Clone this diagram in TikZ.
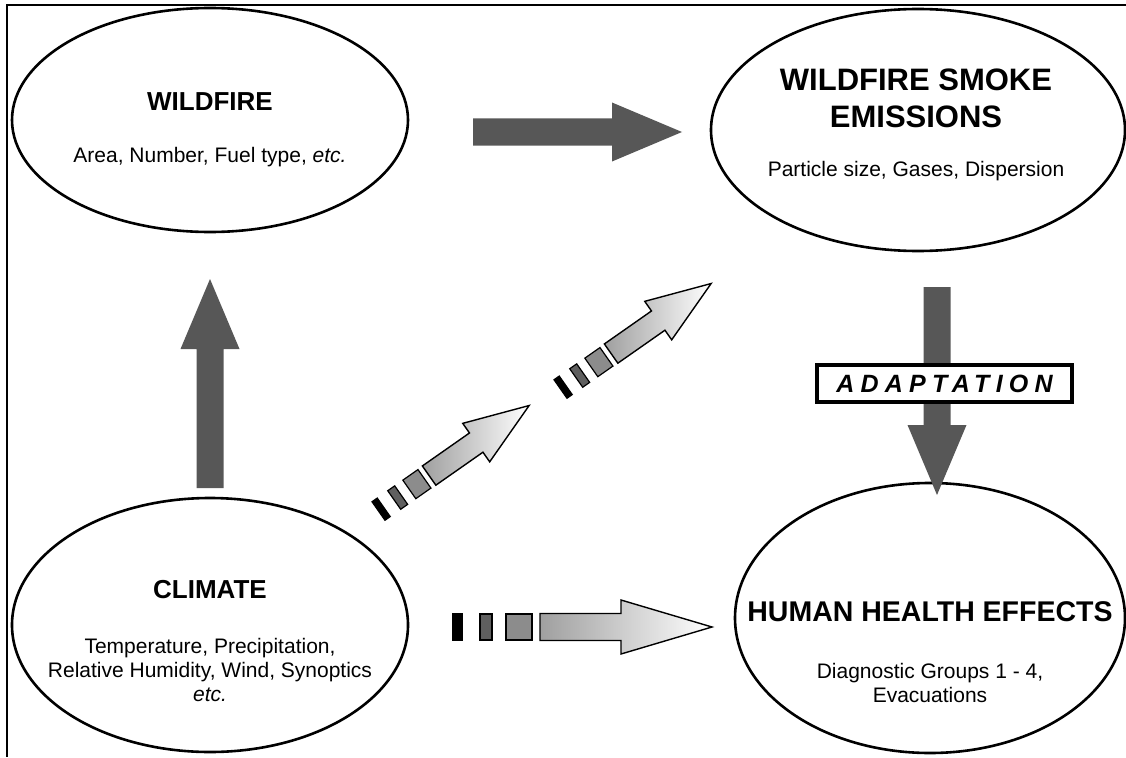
\documentclass[tikz,border=0pt]{standalone}
\usepackage{fontspec}
\setmainfont{Liberation Sans}
\usetikzlibrary{positioning,calc,shapes.geometric}
\definecolor{arrowgray}{RGB}{87,87,87}
\definecolor{dashdark}{RGB}{95,95,95}
\definecolor{dashmid}{RGB}{140,140,140}
\newcommand{\fatarrow}[3]{\fill[arrowgray,shift={(#1)},rotate=#2] (0,-13.5) -- (#3-70,-13.5) -- (#3-70,-29.5) -- (#3,0) -- (#3-70,29.5) -- (#3-70,13.5) -- (0,13.5) -- cycle;}
\newcommand{\gradarrow}[4]{%
\begin{scope}[shift={(#1)},rotate=#2,xscale=#3,yscale=#4]
\filldraw[dashbox,fill=black] (0,-13) rectangle (9,13);
\filldraw[dashbox,fill=dashdark] (27,-13) rectangle (39,13);
\filldraw[dashbox,fill=dashmid] (53,-13) rectangle (79,13);
\shade[draw=black,line width=1.4pt,line join=miter,left color=gray!75,middle color=white,right color=white] (87,-13.5) -- (168,-13.5) -- (168,-27) -- (259,0) -- (168,27) -- (168,13.5) -- (87,13.5) -- cycle;
\end{scope}}

\begin{document}
\begin{tikzpicture}[x=1pt,y=-1pt,
  bubble/.style={draw,line width=2.6pt,ellipse,inner sep=0pt},
  head/.style={font=\fontsize{26}{36}\selectfont\bfseries,align=center},
  bighead/.style={font=\fontsize{31}{37}\selectfont\bfseries,align=center},
  sub/.style={font=\fontsize{21}{24}\selectfont,align=center},
  dashbox/.style={draw=black,line width=1.2pt},
  adapt/.style={draw,fill=white,line width=3.2pt,inner sep=0pt,minimum width=255pt,minimum height=37pt,font=\fontsize{25}{28}\selectfont\bfseries\itshape\addfontfeature{LetterSpace=25}}]
\useasboundingbox (0,0) rectangle (1126,757);
\draw[line width=2pt] (1126,5) -- (7,5) -- (7,757);

\node[bubble,minimum width=396pt,minimum height=224pt] (wild) at (210,120) {};
\node[bubble,minimum width=414pt,minimum height=242pt] (smoke) at (918,130) {};
\node[bubble,minimum width=396pt,minimum height=254pt] (clim) at (210,625) {};
\node[bubble,minimum width=390pt,minimum height=270pt] (health) at (930,618) {};

\node[head] (wildt) at (210,102) {WILDFIRE};
\node[sub] (wilds) at (210,157) {Area, Number, Fuel type, \textit{etc.}};
\node[bighead] (smoket) at (916,98) {WILDFIRE SMOKE\\EMISSIONS};
\node[sub] (smokes) at (916,171) {Particle size, Gases, Dispersion};
\node[head] (climt) at (210,590) {CLIMATE};
\node[sub] (clims) at (210,670) {Temperature, Precipitation,\\Relative Humidity, Wind, Synoptics\\\textit{etc.}};
\node[bighead,font=\fontsize{28.5}{36}\selectfont\bfseries] (healtht) at (930,612) {HUMAN HEALTH EFFECTS};
\node[sub] (healths) at (930,683) {Diagnostic Groups 1 - 4,\\Evacuations};

\coordinate (up0) at (210,488);
\coordinate (right0) at (473,132);
\coordinate (down0) at (937,287);
\fatarrow{up0}{90}{209}
\fatarrow{right0}{0}{209}
\fatarrow{down0}{-90}{208}
\node[adapt] (adapt) at (944.5,383.5) {ADAPTATION};

\coordinate (dash1) at (378.5,511);
\coordinate (dash2) at (560.5,389);
\coordinate (dash3) at (453,627);
\gradarrow{dash1}{35}{0.71}{0.87}
\gradarrow{dash2}{35}{0.71}{0.87}
\gradarrow{dash3}{0}{1}{1}
\end{tikzpicture}
\end{document}
